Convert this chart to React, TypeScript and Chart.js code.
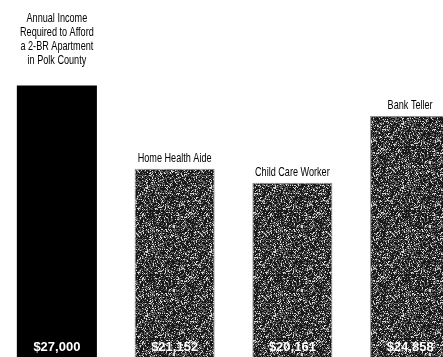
import React, { useEffect, useRef } from "react";
import { Chart, registerables } from "chart.js";

Chart.register(...registerables);

const categories = ["Polk County 2-BR", "Home Health Aide", "Child Care Worker", "Bank Teller"];
const labelLines: string[][] = [
  ["Annual Income", "Required to Afford", "a 2-BR Apartment", "in Polk County"],
  ["Home Health Aide"],
  ["Child Care Worker"],
  ["Bank Teller"],
];
const incomes = [27000, 21152, 20161, 24858];
const valueLabels = ["$27,000", "$21,152", "$20,161", "$24,858"];

const LABEL_FONT = "13px 'Liberation Sans', Arial, sans-serif";
const VALUE_FONT = "bold 13px 'Liberation Sans', Arial, sans-serif";

function makeStipple(): CanvasPattern | string {
  const c = document.createElement("canvas");
  c.width = 64;
  c.height = 64;
  const g = c.getContext("2d");
  if (!g) return "#444";
  const img = g.createImageData(64, 64);
  let s = 987654;
  for (let i = 0; i < 64 * 64; i++) {
    s = (s * 1103515245 + 12345) & 0x7fffffff;
    const v = (s >> 8) % 100;
    let col = 24;
    if (v >= 56 && v < 87) col = 100;
    else if (v >= 87) col = 215;
    img.data[i * 4] = col;
    img.data[i * 4 + 1] = col;
    img.data[i * 4 + 2] = col;
    img.data[i * 4 + 3] = 255;
  }
  g.putImageData(img, 0, 0);
  return g.createPattern(c, "repeat") || "#444";
}

const labelPlugin = {
  id: "barLabels",
  afterDatasetsDraw(chart: any) {
    const ctx = chart.ctx;
    const meta = chart.getDatasetMeta(0);
    ctx.save();
    meta.data.forEach((bar: any, i: number) => {
      const lines = labelLines[i];
      ctx.fillStyle = "#000";
      ctx.font = LABEL_FONT;
      ctx.textAlign = "center";
      ctx.textBaseline = "alphabetic";
      const lh = 14;
      const gap = lines.length > 1 ? 22 : 7;
      lines.forEach((ln, j) => {
        const y = bar.y - gap - (lines.length - 1 - j) * lh;
        ctx.save();
        ctx.translate(bar.x, y);
        ctx.scale(0.7, 1);
        ctx.fillText(ln, 0, 0);
        ctx.restore();
      });
      ctx.fillStyle = "#fff";
      ctx.font = VALUE_FONT;
      ctx.textBaseline = "middle";
      ctx.fillText(valueLabels[i], bar.x, chart.chartArea.bottom - 10);
    });
    ctx.restore();
  },
};

export default function App() {
  const ref = useRef<HTMLCanvasElement | null>(null);
  useEffect(() => {
    if (!ref.current) return;
    const pat = makeStipple();
    const chart = new Chart(ref.current, {
      type: "bar",
      data: {
        labels: categories,
        datasets: [
          {
            data: incomes,
            backgroundColor: ["#000", pat, pat, pat] as any,
            borderColor: ["#000", "#8a8a8a", "#8a8a8a", "#8a8a8a"],
            borderWidth: [0, 1, 1, 1] as any,
            borderSkipped: false,
            barPercentage: 0.68,
            categoryPercentage: 1,
          },
        ],
      },
      options: {
        responsive: false,
        animation: false,
        layout: { padding: 0 },
        plugins: { legend: { display: false }, tooltip: { enabled: false } },
        scales: {
          x: { display: false },
          y: { display: false, min: 7896, max: 33024 },
        },
      },
      plugins: [labelPlugin],
    });
    return () => chart.destroy();
  }, []);
  return (
    <div
      style={{
        position: "fixed",
        left: 0,
        top: 0,
        width: 443,
        height: 357,
        overflow: "hidden",
        background: "#fff",
      }}
    >
      <canvas
        ref={ref}
        width={471}
        height={357}
        style={{ position: "absolute", left: -2, top: 0, width: 471, height: 357 }}
      />
    </div>
  );
}
